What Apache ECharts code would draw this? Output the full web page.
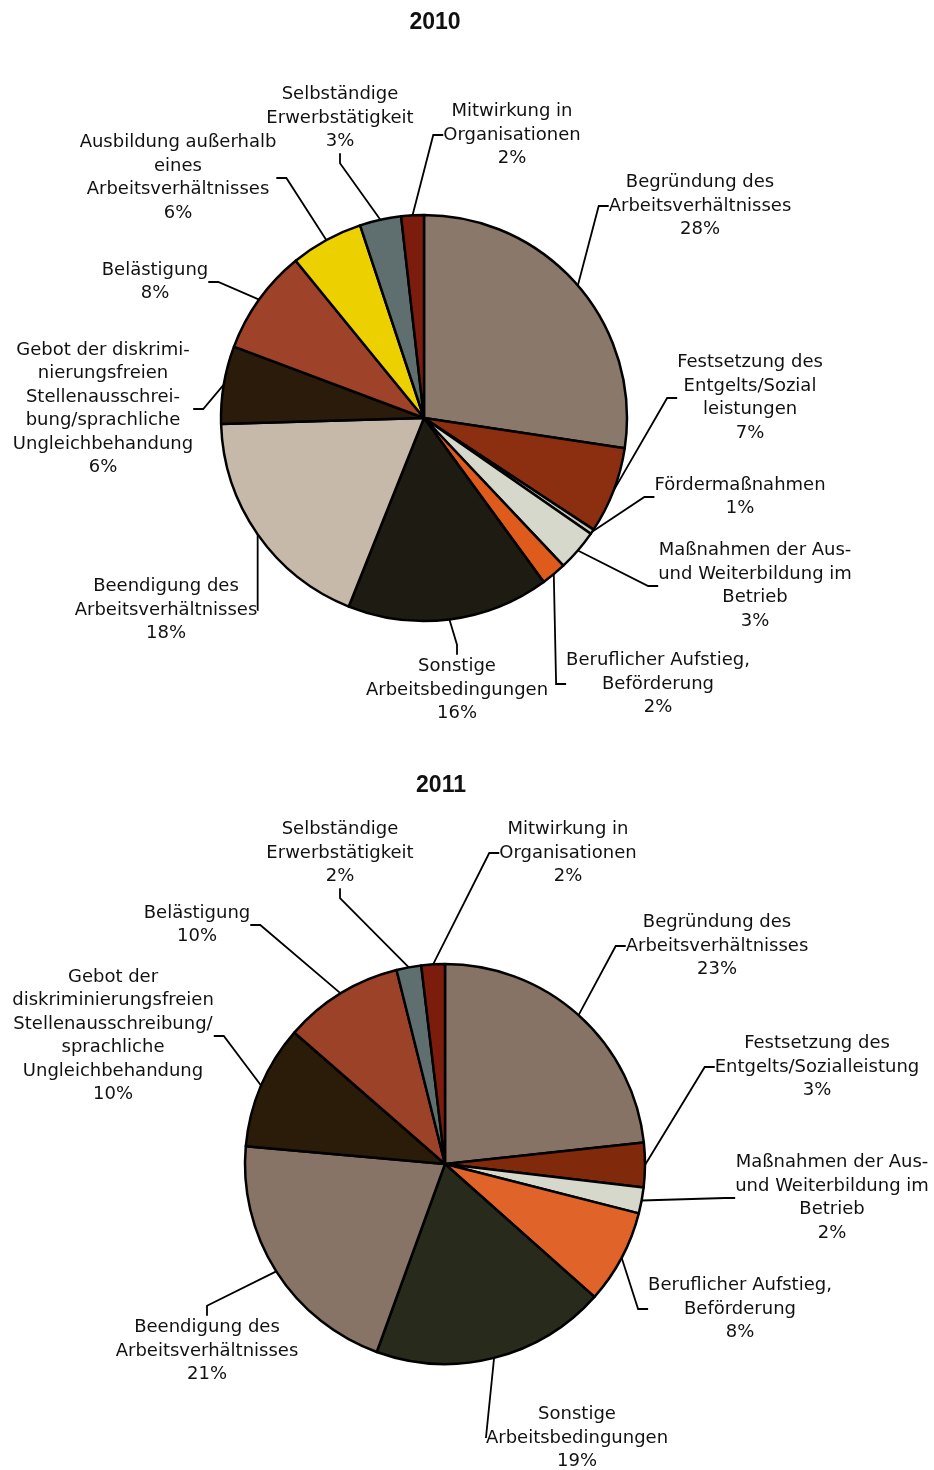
<!DOCTYPE html>
<html><head><meta charset="utf-8">
<script src="https://cdn.jsdelivr.net/npm/echarts@6/dist/echarts.min.js"></script>
<style>html,body{margin:0;padding:0;background:#fff}#c{width:934px;height:1470px}</style>
</head><body><div id="c"></div>
<script>
// ---- 2010 ----
const cats2010 = [
  'Begründung des\nArbeitsverhältnisses',
  'Festsetzung des\nEntgelts/Sozial\nleistungen',
  'Fördermaßnahmen',
  'Maßnahmen der Aus-\nund Weiterbildung im\nBetrieb',
  'Beruflicher Aufstieg,\nBeförderung',
  'Sonstige\nArbeitsbedingungen',
  'Beendigung des\nArbeitsverhältnisses',
  'Gebot der diskrimi-\nnierungsfreien\nStellenausschrei-\nbung/sprachliche\nUngleichbehandung',
  'Belästigung',
  'Ausbildung außerhalb\neines\nArbeitsverhältnisses',
  'Selbständige\nErwerbstätigkeit',
  'Mitwirkung in\nOrganisationen'
];
const values2010 = [27.4, 6.9, 0.4, 3.3, 2.0, 16.1, 18.5, 6.2, 8.4, 5.8, 3.3, 1.8];
const pct2010 = ['28%', '7%', '1%', '3%', '2%', '16%', '18%', '6%', '8%', '6%', '3%', '2%'];

// ---- 2011 ----
const cats2011 = [
  'Begründung des\nArbeitsverhältnisses',
  'Festsetzung des\nEntgelts/Sozialleistung',
  'Maßnahmen der Aus-\nund Weiterbildung im\nBetrieb',
  'Beruflicher Aufstieg,\nBeförderung',
  'Sonstige\nArbeitsbedingungen',
  'Beendigung des\nArbeitsverhältnisses',
  'Gebot der\ndiskriminierungsfreien\nStellenausschreibung/\nsprachliche\nUngleichbehandung',
  'Belästigung',
  'Selbständige\nErwerbstätigkeit',
  'Mitwirkung in\nOrganisationen'
];
const values2011 = [23.3, 3.6, 2.1, 7.6, 19.0, 20.9, 10.0, 9.7, 2.0, 1.9];
const pct2011 = ['23%', '3%', '2%', '8%', '19%', '21%', '10%', '10%', '2%', '2%'];

// ---- styling / layout (not data) ----
const colors2010 = ['#8a786b','#8c2f10','#c9c9bf','#d6d8cc','#de5b1c','#1d1b12','#c7b9aa','#2b1b0a','#9e4229','#ecd000','#5f6f6f','#7c1c0c'];
const colors2011 = ['#877366','#80290b','#d6d8cc','#e0632a','#282a1c','#887467','#2a1c08','#9c4228','#5f6f6f','#7c1c0c'];
const labelPos2010 = [[700,206],[750,398],[740,497],[755,586],[658,684],[457,690],[166,610],[103,409],[155,282],[178,178],[340,118],[512,135]];
const labelPos2011 = [[717,946],[817,1067],[832,1198],[740,1309],[577,1438],[207,1351],[113,1036],[197,925],[340,853],[568,853]];

const FONT = 'DejaVu Sans';

function makeSeries(cats, vals, pcts, cols, pos, center, radius) {
  return {
    type: 'pie',
    center: center,
    radius: radius,
    startAngle: 90,
    clockwise: true,
    avoidLabelOverlap: false,
    animation: false,
    data: cats.map((c, i) => ({ name: c, value: vals[i], itemStyle: { color: cols[i] } })),
    itemStyle: { borderColor: '#000', borderWidth: 2.5 },
    label: {
      show: true,
      position: 'outside',
      formatter: p => p.name + '\n' + pcts[p.dataIndex],
      fontFamily: FONT,
      fontSize: 18,
      lineHeight: 23.5,
      color: '#111',
      align: 'center'
    },
    labelLine: { show: true, length: 15, length2: 10, smooth: false, lineStyle: { color: '#000', width: 1.8 } },
    labelLayout: function (params) {
      const p = pos[params.dataIndex];
      return { x: p[0], y: p[1], align: 'center', verticalAlign: 'middle' };
    },
    emphasis: { disabled: true }
  };
}

const chart = echarts.init(document.getElementById('c'), null, { renderer: 'canvas' });
chart.setOption({
  backgroundColor: '#fff',
  animation: false,
  title: [
    { text: '2010', left: 430, top: 6, textAlign: 'center', textStyle: { fontFamily: 'Liberation Sans', fontWeight: 'bold', fontSize: 23, color: '#111' } },
    { text: '2011', left: 436, top: 769, textAlign: 'center', textStyle: { fontFamily: 'Liberation Sans', fontWeight: 'bold', fontSize: 23, color: '#111' } }
  ],
  series: [
    makeSeries(cats2010, values2010, pct2010, colors2010, labelPos2010, [424, 418], 203),
    makeSeries(cats2011, values2011, pct2011, colors2011, labelPos2011, [445, 1164], 200)
  ]
});
</script></body></html>
